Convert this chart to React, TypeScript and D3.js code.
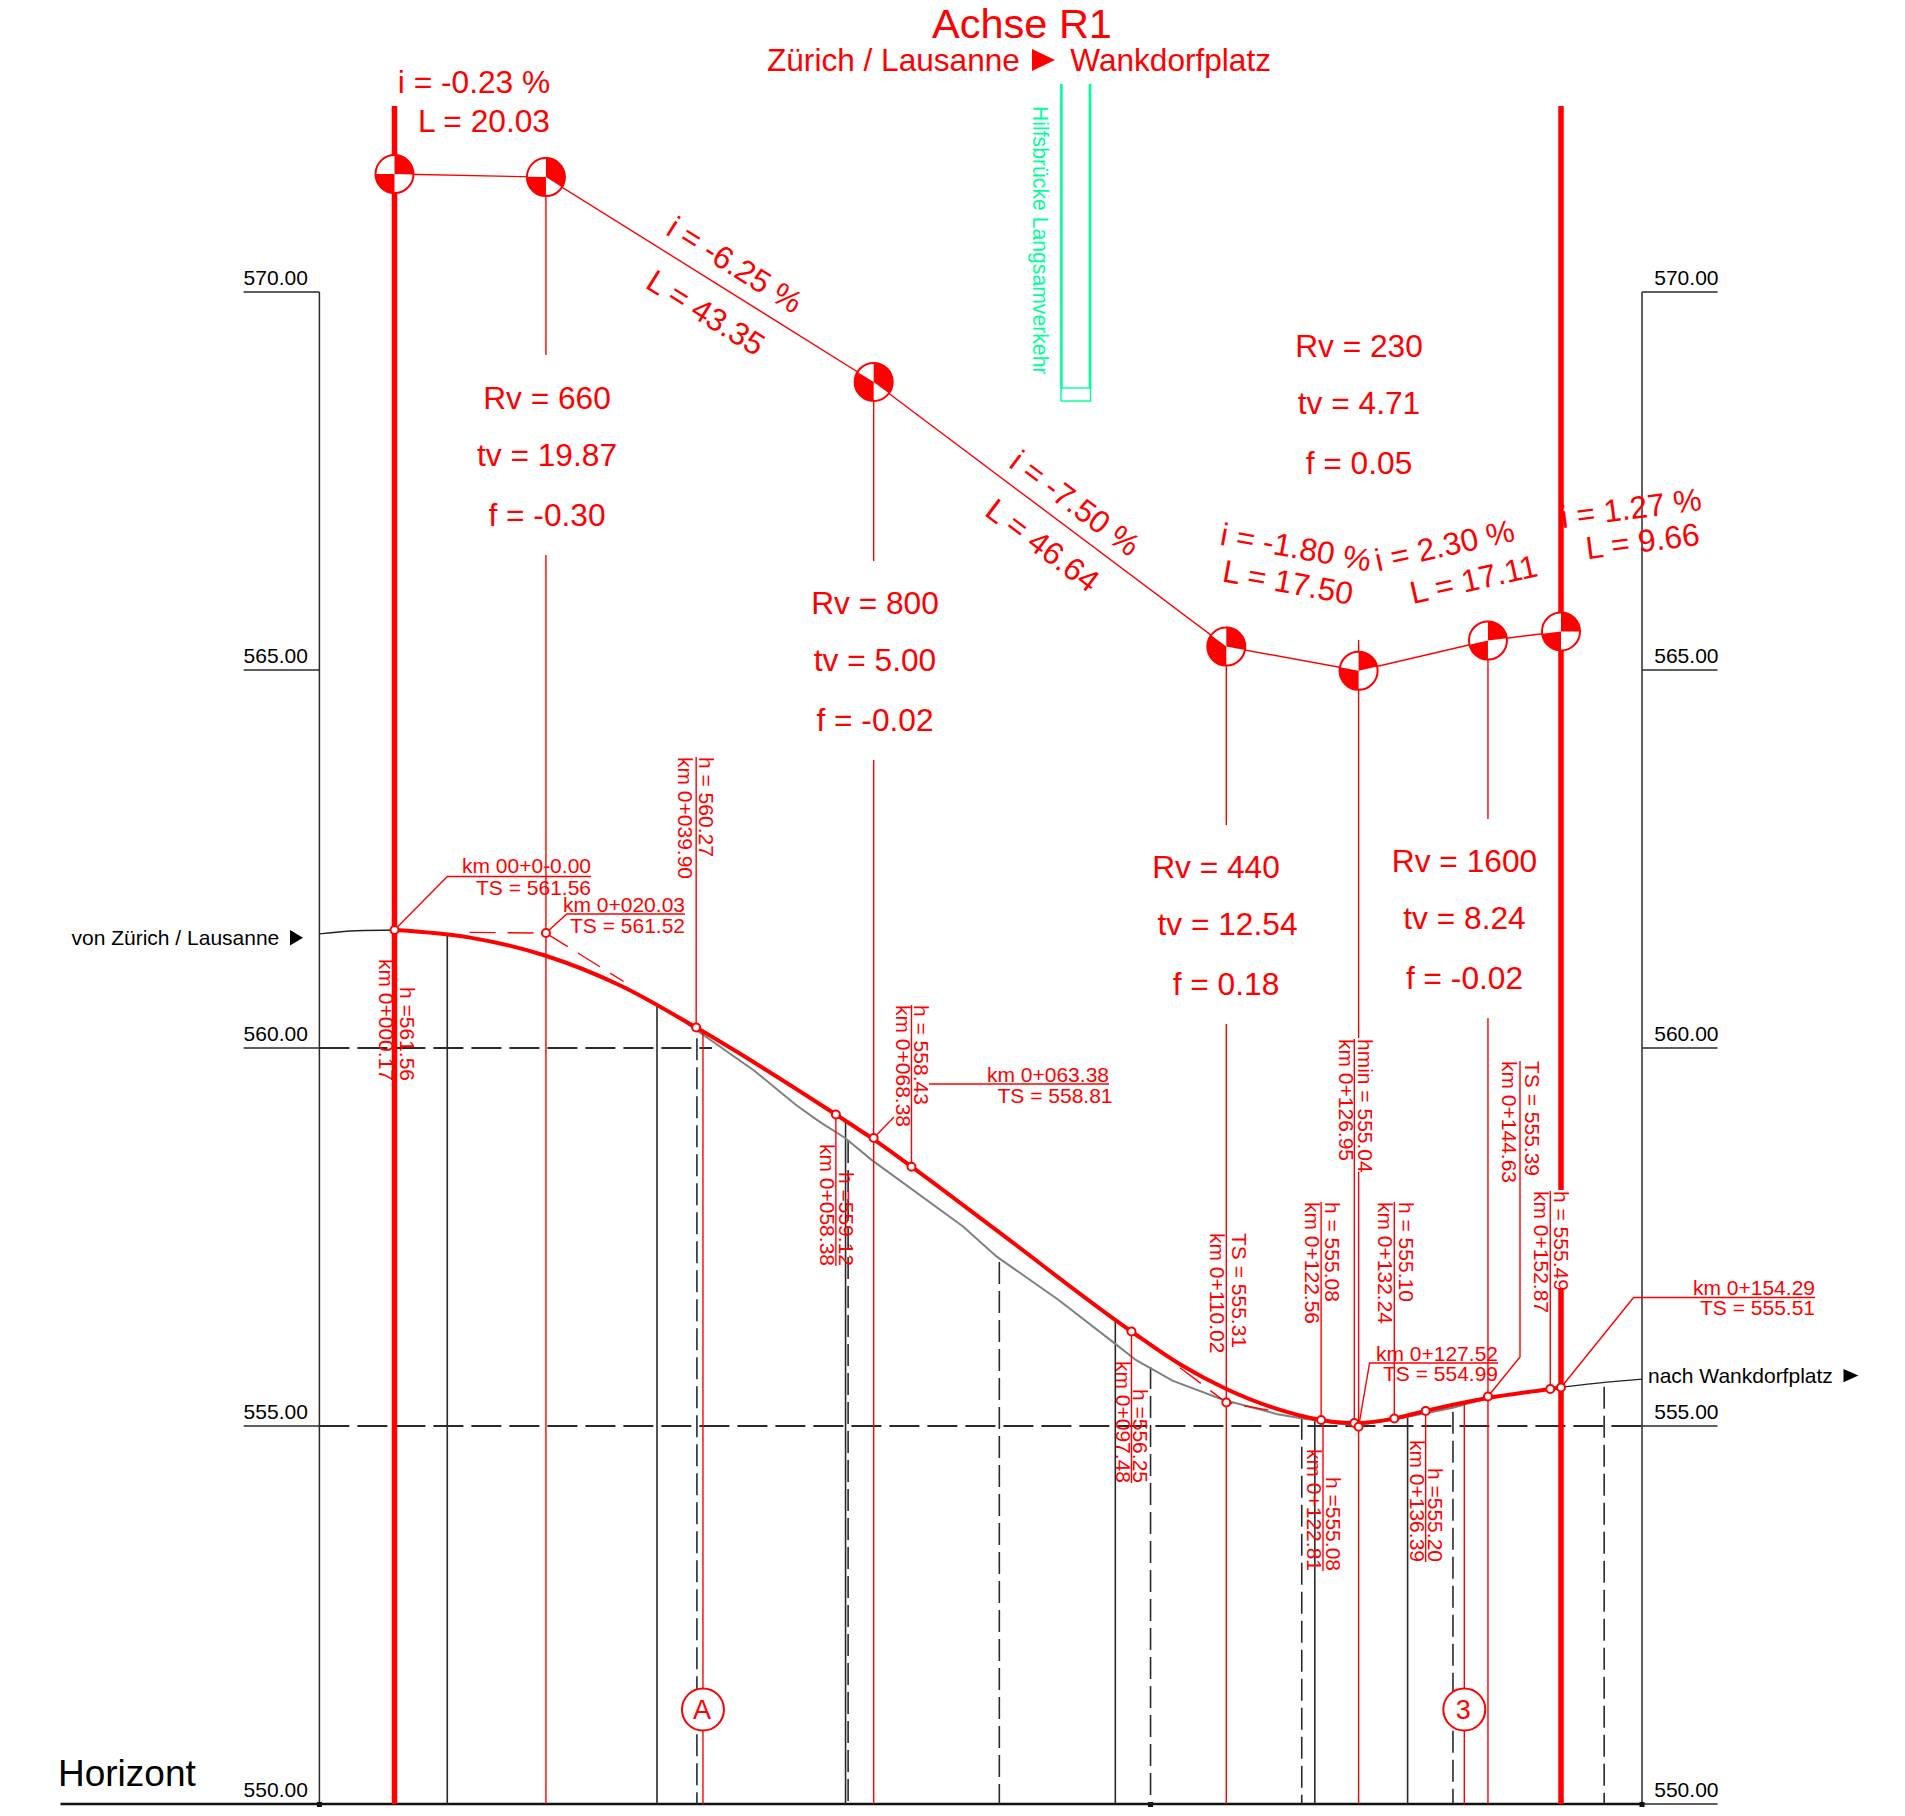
import React from "react";
import * as d3 from "d3";

// ---------- data ----------
const elevationTicks = [570, 565, 560, 555, 550];
const tangentKm = [0, 20.03, 63.38, 110.02, 127.52, 144.63, 154.29];
const tangentH = [561.56, 561.52, 558.81, 555.31, 554.99, 555.39, 555.51];
const roadKm = [0.17, 10, 20, 30, 39.9, 58.38, 63.38, 68.38, 80, 97.48, 104, 110.02, 116, 122.56, 124.7, 126.95, 127.52, 132.24, 136.39, 144.63, 152.87, 154.29];
const roadH = [561.56, 561.46, 561.22, 560.82, 560.27, 559.12, 558.79, 558.43, 557.56, 556.25, 555.81, 555.49, 555.25, 555.08, 555.05, 555.04, 555.04, 555.1, 555.2, 555.37, 555.49, 555.51];
const approachKm = [-9.93, -5, 0.17];
const approachH = [561.51, 561.55, 561.56];
const exitKm = [154.29, 160.3, 165];
const exitH = [555.51, 555.58, 555.62];
const groundKm = [36.3, 47.6, 53.2, 56.3, 59.6, 63.1, 75.2, 79.66, 87.8, 95.3, 98.1, 102.9, 109.5, 116.6, 120.1, 125, 127.5, 132.2, 136.4, 140, 144.6, 148];
const groundH = [560.49, 559.7, 559.24, 559.02, 558.81, 558.52, 557.64, 557.24, 556.67, 556.09, 555.87, 555.6, 555.35, 555.16, 555.1, 555.03, 555.01, 555.09, 555.17, 555.24, 555.37, 555.42];
const solidKm = [6.98, 34.72, 59.66, 95.34, 121.73, 134];
const solidTopH = [561.49, 560.58, 559.03, 556.4, 555.08, 555.11];
const dashedKm = [40, 60, 80, 100, 120, 140, 160];
const dashedTopH = [560.13, 558.77, 557.17, 555.78, 555.11, 555.19, 555.52];
const markerKm = [0, 20.03, 39.9, 58.38, 63.38, 68.38, 97.48, 110.02, 122.56, 126.95, 127.52, 132.24, 136.39, 144.63, 152.87, 154.29];
const markerH = [561.56, 561.52, 560.27, 559.12, 558.81, 558.43, 556.25, 555.31, 555.08, 555.04, 554.99, 555.1, 555.2, 555.39, 555.49, 555.51];
const sectionKm = [40.8, 141.5];
const sectionH = [560.2, 555.29];
const sectionNames = ["A", "3"];
const stemUpKm = [39.9, 68.38, 122.56, 126.95, 132.24, 152.87];
const stemUpH = [560.27, 558.43, 555.08, 555.04, 555.1, 555.49];
const stemDownKm = [58.38, 97.48, 122.81, 136.39];
const stemDownH = [559.12, 556.25, 555.08, 555.2];
const verticalCurves = [
  ["Rv = 660", "tv = 19.87", "f = -0.30"],
  ["Rv = 800", "tv = 5.00", "f = -0.02"],
  ["Rv = 440", "tv = 12.54", "f = 0.18"],
  ["Rv = 230", "tv = 4.71", "f = 0.05"],
  ["Rv = 1600", "tv = 8.24", "f = -0.02"],
];
const gradeTexts = [
  ["i = -0.23 %", "L = 20.03"],
  ["i = -6.25 %", "L = 43.35"],
  ["i = -7.50 %", "L = 46.64"],
  ["i = -1.80 %", "L = 17.50"],
  ["i = 2.30 %", "L = 17.11"],
  ["i = 1.27 %", "L = 9.66"],
];
const verticalLabels = [
  ["km 0+000.17", "h =561.56"],
  ["km 0+039.90", "h = 560.27"],
  ["km 0+058.38", "h =559.12"],
  ["km 0+068.38", "h = 558.43"],
  ["km 0+097.48", "h =556.25"],
  ["km 0+110.02", "TS = 555.31"],
  ["km 0+122.56", "h = 555.08"],
  ["km 0+122.81", "h =555.08"],
  ["km 0+126.95", "hmin = 555.04"],
  ["km 0+132.24", "h = 555.10"],
  ["km 0+136.39", "h =555.20"],
  ["km 0+144.63", "TS = 555.39"],
  ["km 0+152.87", "h = 555.49"],
];
const leaderTexts = [
  ["km 00+0-0.00", "TS = 561.56"],
  ["km 0+020.03", "TS = 561.52"],
  ["km 0+063.38", "TS = 558.81"],
  ["km 0+127.52", "TS = 554.99"],
  ["km 0+154.29", "TS = 555.51"],
];

// ---------- layout (page pixels) ----------
const W = 1905, H = 1816;
const x = d3.scaleLinear().domain([0, 154.29]).range([394.5, 1561]);
const y = d3.scaleLinear().domain([550, 570]).range([1804, 292]);
const yTop = (h: number) => y(h + 10);
const RED = "#ff0000", GREEN = "#00ff99", DARK = "#2a2a2a";
const FONT = "'Liberation Sans', Arial, sans-serif";

const axisL = 319.4, axisR = 1642, tickL = 243.6, tickR = 1717.5;

// [kmBaseX, hBaseX, kmY, hY, anchor]
const verticalLayout: [number, number, number, number, "start" | "end"][] = [
  [379, 400, 1081, 1081, "end"],
  [678, 699, 757, 757, "start"],
  [820, 839, 1266, 1266, "end"],
  [896, 914, 1005, 1005, "start"],
  [1116, 1133, 1483, 1483, "end"],
  [1210, 1232, 1233, 1233, "start"],
  [1304.5, 1325, 1202, 1202, "start"],
  [1306.5, 1326, 1571, 1571, "end"],
  [1338.5, 1358, 1039, 1039, "start"],
  [1377.5, 1399, 1202, 1202, "start"],
  [1410, 1428, 1562, 1562, "end"],
  [1501.5, 1525, 1061, 1061, "start"],
  [1533.5, 1554, 1191, 1191, "start"],
];
const stemUpTop = [757, 1005, 1202, 1039, 1202, 1191];
const stemDownBottom = [1266, 1483, 1571, 1562];
// centre x + baselines per block
const vcLayout: { xs: number[]; ys: number[] }[] = [
  { xs: [547, 547, 547], ys: [409, 466, 526] },
  { xs: [875, 875, 875], ys: [614, 671, 731] },
  { xs: [1216, 1227.5, 1226], ys: [878, 935, 995] },
  { xs: [1359, 1359, 1359], ys: [357, 414, 474] },
  { xs: [1464.5, 1464.5, 1464.5], ys: [872, 929, 989] },
];
// baseline centres + angle
const gradeLayout: { ix: number; iy: number; lx: number; ly: number; a: number }[] = [
  { ix: 474, iy: 93, lx: 484, ly: 132, a: 0 },
  { ix: 729, iy: 274, lx: 700, ly: 322, a: 32 },
  { ix: 1068.5, iy: 512, lx: 1036, ly: 554, a: 36.9 },
  { ix: 1294, iy: 558, lx: 1286, ly: 593, a: 10.3 },
  { ix: 1447, iy: 556, lx: 1476, ly: 590, a: -12.6 },
  { ix: 1632.5, iy: 519, lx: 1644, ly: 552, a: -7.4 },
];
const leaderTextLayout = [
  { x1: 591, x2: 591, y1: 873, y2: 894.5 },
  { x1: 685, x2: 685, y1: 911.5, y2: 933 },
  { x1: 1109, x2: 1112.5, y1: 1081.5, y2: 1102.7 },
  { x1: 1498, x2: 1498, y1: 1361, y2: 1381 },
  { x1: 1815, x2: 1815, y1: 1295, y2: 1314.5 },
];

const lineGen = (xs: number[], ys: number[], curve: d3.CurveFactory = d3.curveMonotoneX) =>
  d3.line<number>().x((_, i) => x(xs[i])).y((_, i) => y(ys[i])).curve(curve)(xs) as string;

function Seg({ a, b, c, d, s = RED, w = 1.4, dash }: { a: number; b: number; c: number; d: number; s?: string; w?: number; dash?: string }) {
  return <line x1={a} y1={b} x2={c} y2={d} stroke={s} strokeWidth={w} strokeDasharray={dash} />;
}

function PviMarker({ i }: { i: number }) {
  const cx = x(tangentKm[i]);
  const cy = yTop(tangentH[i]);
  const r = 19;
  const ang = (j: number) => Math.atan2(x(tangentKm[j]) - cx, -(yTop(tangentH[j]) - cy));
  const out = i < tangentKm.length - 1 ? ang(i + 1) : Math.PI / 2;
  let inc = i > 0 ? ang(i - 1) : -Math.PI / 2;
  if (inc < 0) inc += 2 * Math.PI;
  const arc = d3.arc<any>().innerRadius(0).outerRadius(r);
  return (
    <g transform={`translate(${cx},${cy})`}>
      <circle r={r} fill="#fff" stroke={RED} strokeWidth={2} />
      <path d={arc({ startAngle: 0, endAngle: out }) as string} fill={RED} />
      <path d={arc({ startAngle: Math.PI, endAngle: inc }) as string} fill={RED} />
    </g>
  );
}

export default function App() {
  const tx = tangentKm.map(x);
  const ty = tangentH.map(yTop);
  const smallText = { fontSize: 21, fontFamily: FONT };
  const bigText = { fontSize: 31.7, fontFamily: FONT, fill: RED };
  return (
    <svg width={W} height={H} viewBox={`0 0 ${W} ${H}`} style={{ position: "absolute", left: 0, top: 0, display: "block", background: "#fff" }}>
      {/* green bridge */}
      <g stroke={GREEN} fill="none">
        <line x1={1061.4} y1={84} x2={1061.4} y2={388} strokeWidth={2.6} />
        <line x1={1090} y1={84} x2={1090} y2={388} strokeWidth={2.6} />
        <rect x={1061} y={388} width={29.5} height={13} strokeWidth={1.4} />
      </g>
      <text transform="translate(1033,106) rotate(90)" fill={GREEN} fontSize={21.2} fontFamily={FONT}>Hilfsbrücke Langsamverkehr</text>

      {/* elevation frame */}
      <g stroke={DARK} strokeWidth={1.5}>
        <line x1={axisL} y1={y(570)} x2={axisL} y2={y(550)} />
        <line x1={axisR} y1={y(570)} x2={axisR} y2={y(550)} />
        {[570, 565, 560, 555].map((t) => (
          <g key={t}>
            <line x1={tickL} y1={y(t)} x2={axisL} y2={y(t)} />
            <line x1={axisR} y1={y(t)} x2={tickR} y2={y(t)} />
          </g>
        ))}
        <line x1={axisL} y1={y(560)} x2={712} y2={y(560)} strokeDasharray="30 8" strokeWidth={2} />
        <line x1={axisL} y1={y(555)} x2={axisR} y2={y(555)} strokeDasharray="30 8" strokeWidth={2} />
      </g>
      <line x1={60.5} y1={y(550)} x2={axisR} y2={y(550)} stroke="#111" strokeWidth={2.6} />
      <line x1={axisR} y1={y(550)} x2={tickR} y2={y(550)} stroke={DARK} strokeWidth={1.5} />
      {[axisL, x(100), axisR].map((p) => (
        <rect key={p} x={p - 2.5} y={y(550) - 2} width={5} height={5} fill="#111" />
      ))}
      {elevationTicks.map((t) => (
        <g key={t} {...smallText} fill="#000">
          <text x={tickL} y={y(t) - 7.5}>{t.toFixed(2)}</text>
          <text x={tickR + 1} y={y(t) - 7.5} textAnchor="end">{t.toFixed(2)}</text>
        </g>
      ))}

      {/* black station lines */}
      {solidKm.map((k, i) => (
        <line key={k} x1={x(k)} y1={y(solidTopH[i])} x2={x(k)} y2={y(550)} stroke={DARK} strokeWidth={1.6} />
      ))}
      {dashedKm.map((k, i) => (
        <line key={k} x1={x(k)} y1={y(dashedTopH[i])} x2={x(k)} y2={y(550)} stroke={DARK} strokeWidth={1.6} strokeDasharray="22 7" />
      ))}

      {/* approach and ground */}
      <path d={lineGen(approachKm, approachH)} fill="none" stroke="#222" strokeWidth={1.4} />
      <path d={lineGen(exitKm, exitH)} fill="none" stroke="#222" strokeWidth={1.4} />
      <path d={lineGen(groundKm, groundH, d3.curveLinear)} fill="none" stroke="#808080" strokeWidth={2} />

      {/* thick end lines */}
      <line x1={x(0)} y1={106} x2={x(0)} y2={y(550)} stroke={RED} strokeWidth={5.5} />
      <line x1={x(154.29)} y1={106} x2={x(154.29)} y2={1190} stroke={RED} strokeWidth={5.5} />
      <line x1={x(154.29)} y1={1289} x2={x(154.29)} y2={y(550)} stroke={RED} strokeWidth={5.5} />

      {/* tangent polygon */}
      <polyline points={tx.map((p, i) => `${p},${ty[i]}`).join(" ")} fill="none" stroke={RED} strokeWidth={1.4} />

      {/* red vertical lines from PVIs */}
      <Seg a={tx[1]} b={ty[1]} c={tx[1]} d={355} />
      <Seg a={tx[1]} b={555} c={tx[1]} d={y(550)} />
      <Seg a={tx[2]} b={ty[2]} c={tx[2]} d={561} />
      <Seg a={tx[2]} b={760} c={tx[2]} d={y(550)} />
      <Seg a={tx[3]} b={ty[3]} c={tx[3]} d={825} />
      <Seg a={tx[3]} b={1024} c={tx[3]} d={y(550)} />
      <Seg a={tx[4]} b={640} c={tx[4]} d={1038} />
      <Seg a={tx[4]} b={1172} c={tx[4]} d={y(550)} />
      <Seg a={tx[5]} b={ty[5]} c={tx[5]} d={819} />
      <Seg a={tx[5]} b={1018} c={tx[5]} d={y(550)} />

      {/* stems to the labels */}
      {stemUpKm.map((k, i) => (
        <Seg key={k} a={x(k)} b={stemUpTop[i]} c={x(k)} d={y(stemUpH[i])} />
      ))}
      {stemDownKm.map((k, i) => (
        <Seg key={k} a={x(k)} b={y(stemDownH[i])} c={x(k)} d={stemDownBottom[i]} />
      ))}

      {/* section marks */}
      {sectionKm.map((k, i) => (
        <g key={k}>
          <Seg a={x(k)} b={y(sectionH[i])} c={x(k)} d={y(550)} />
          <circle cx={x(k)} cy={1709.5} r={21} fill="#fff" stroke={RED} strokeWidth={2} />
          <text x={x(k) - 1} y={1719} textAnchor="middle" fontSize={27} fontFamily={FONT} fill={RED}>{sectionNames[i]}</text>
        </g>
      ))}

      {/* dashed tangents */}
      <g fill="none" stroke={RED} strokeWidth={1.4} strokeDasharray="26 12">
        <path d={d3.line()([[x(9.93), y(561.53)], [tx[1], y(561.52)], [x(30.3), y(560.88)]]) as string} />
        <path d={d3.line()([[x(103.9), y(555.77)], [tx[3], y(555.31)], [x(115.6), y(555.21)]]) as string} />
      </g>

      {/* leaders */}
      <polyline points={`${x(0)},${y(561.56)} 447.3,876.5 591,876.5`} fill="none" stroke={RED} strokeWidth={1.4} />
      <polyline points={`${tx[1]},${y(561.52)} 566.7,914 685,914`} fill="none" stroke={RED} strokeWidth={1.4} />
      <Seg a={tx[2]} b={y(558.81)} c={894} d={1117} />
      <Seg a={929} b={1084} c={1109} d={1084} />
      <polyline points={`${tx[4]},${y(554.99)} 1369.6,1363 1498,1363`} fill="none" stroke={RED} strokeWidth={1.4} />
      <polyline points={`${tx[5]},${y(555.39)} 1520,1357 1520,1061`} fill="none" stroke={RED} strokeWidth={1.4} />
      <polyline points={`${tx[6]},${y(555.51)} 1633.6,1297.5 1815,1297.5`} fill="none" stroke={RED} strokeWidth={1.4} />

      {/* design line */}
      <path d={lineGen(roadKm, roadH)} fill="none" stroke={RED} strokeWidth={4} />
      {markerKm.map((k, i) => (
        <circle key={k} cx={x(k)} cy={y(markerH[i])} r={4} fill="#fff" stroke={RED} strokeWidth={2} />
      ))}

      {/* PVI markers */}
      {tangentKm.map((_, i) => <PviMarker key={i} i={i} />)}

      {/* title */}
      <text x={1022} y={37.8} textAnchor="middle" fontSize={41.5} fontFamily={FONT} fill={RED}>Achse R1</text>
      <text x={767} y={71} fontSize={31.6} fontFamily={FONT} fill={RED}>Zürich / Lausanne</text>
      <polygon points="1032,49 1032,71 1055,60" fill={RED} />
      <text x={1271} y={71} textAnchor="end" fontSize={31.6} fontFamily={FONT} fill={RED}>Wankdorfplatz</text>

      {/* vertical curve data */}
      {verticalCurves.map((rows, i) => rows.map((t, j) => (
        <text key={t + i} x={vcLayout[i].xs[j]} y={vcLayout[i].ys[j]} textAnchor="middle" {...bigText}>{t}</text>
      )))}

      {/* gradients */}
      {gradeTexts.map(([a, b], i) => {
        const l = gradeLayout[i];
        return (
          <g key={a} {...bigText} textAnchor="middle">
            <text transform={`translate(${l.ix},${l.iy}) rotate(${l.a})`}>{a}</text>
            <text transform={`translate(${l.lx},${l.ly}) rotate(${l.a})`}>{b}</text>
          </g>
        );
      })}

      {/* rotated station labels */}
      {verticalLabels.map(([a, b], i) => {
        const [ax, bx, ay, by, anchor] = verticalLayout[i];
        return (
          <g key={a} {...smallText} fill={RED} textAnchor={anchor}>
            <text transform={`translate(${ax},${ay}) rotate(90)`}>{a}</text>
            <text transform={`translate(${bx},${by}) rotate(90)`}>{b}</text>
          </g>
        );
      })}

      {/* leader labels */}
      {leaderTexts.map(([a, b], i) => {
        const l = leaderTextLayout[i];
        return (
          <g key={a} {...smallText} fill={RED} textAnchor="end">
            <text x={l.x1} y={l.y1}>{a}</text>
            <text x={l.x2} y={l.y2}>{b}</text>
          </g>
        );
      })}

      {/* side labels */}
      <text x={71.5} y={945} {...smallText} fill="#000">von Zürich / Lausanne</text>
      <polygon points="290,930 290,945.5 303,937.8" fill="#000" />
      <text x={1648} y={1382.7} {...smallText} fill="#000">nach Wankdorfplatz</text>
      <polygon points="1843.5,1369 1843.5,1382.3 1858.4,1375.6" fill="#000" />
      <text x={58} y={1785.5} fontSize={37} fontFamily={FONT} fill="#000">Horizont</text>
    </svg>
  );
}
